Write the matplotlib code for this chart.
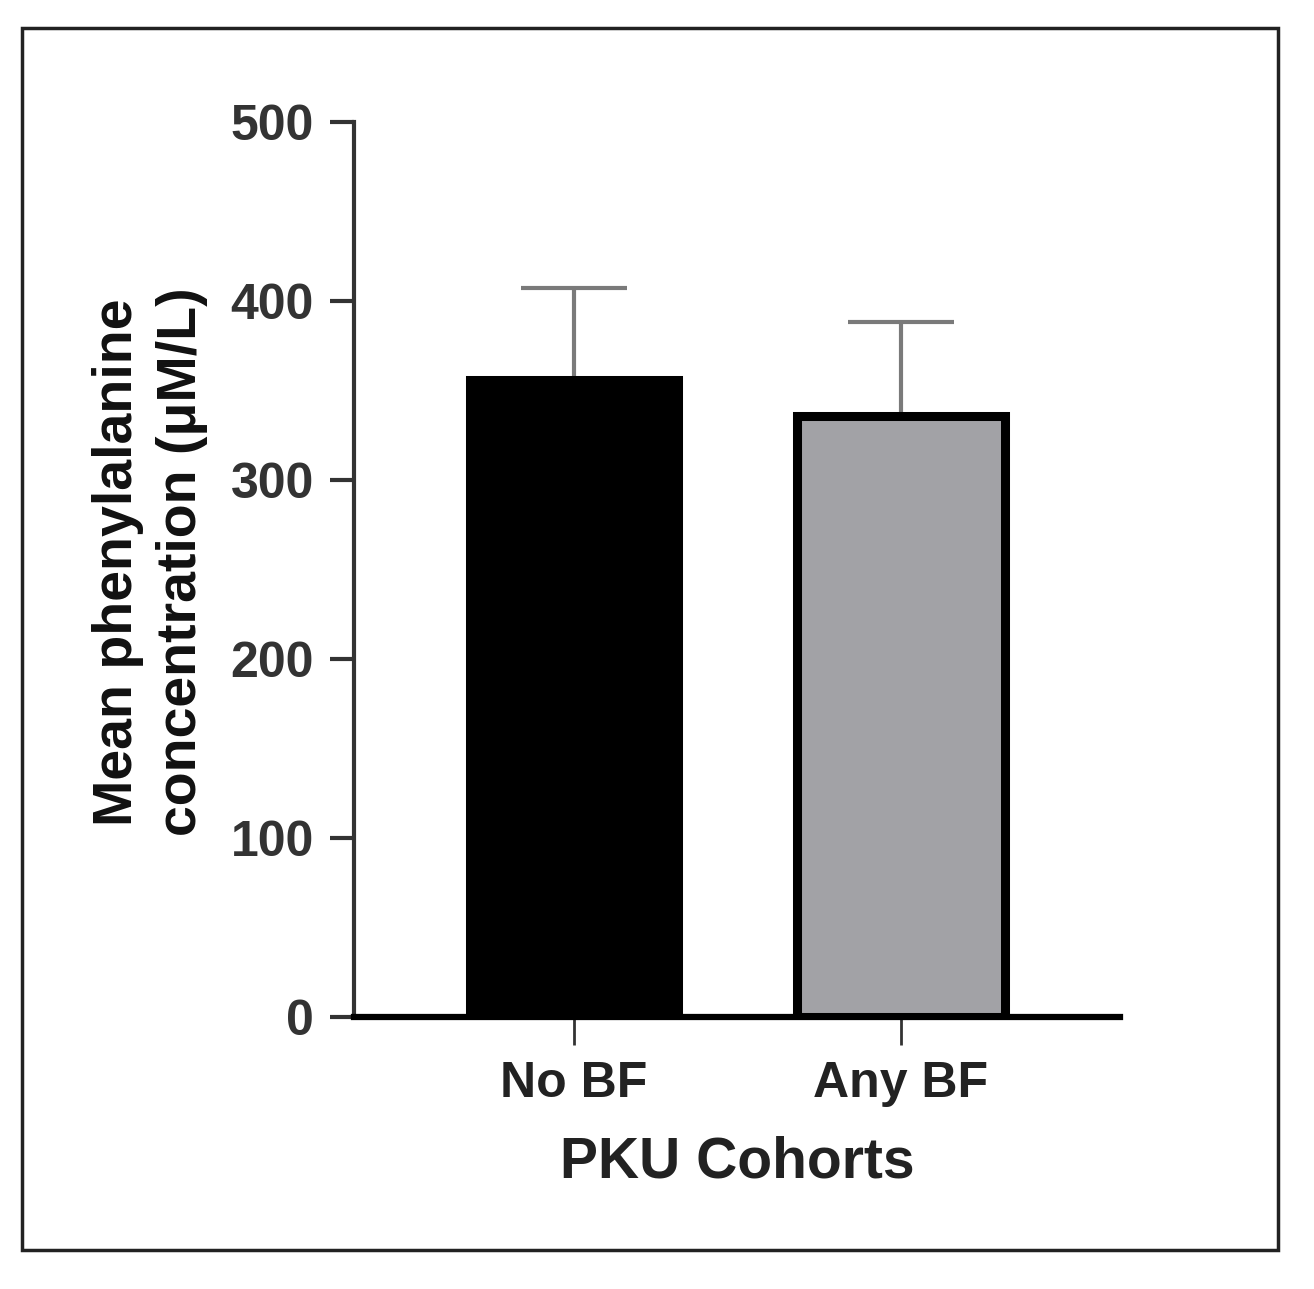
import matplotlib
matplotlib.use('Agg')
import matplotlib.pyplot as plt
from matplotlib.patches import Rectangle

# Data
cohorts = ['No BF', 'Any BF']
mean_phe = [356, 336]
sem_phe = [51, 52]
bar_colors = ['#000000', '#a2a2a6']
y_ticks = [0, 100, 200, 300, 400, 500]

plt.rcParams['font.family'] = ['Liberation Sans', 'DejaVu Sans']

fig = plt.figure(figsize=(13.14, 12.89), dpi=100)
ax = fig.add_axes([0.2694, 0.211, 0.5830, 0.6944])

x = list(range(len(cohorts)))
ax.errorbar(x, mean_phe, yerr=[[0] * len(sem_phe), sem_phe], fmt='none',
            ecolor='#7a7a7a', elinewidth=3, capsize=38, capthick=3, zorder=1)
ax.bar(x, mean_phe, width=0.635, color=bar_colors, edgecolor='black',
       linewidth=6.5, zorder=2)

ax.set_xlim(-0.673, 1.67)
ax.set_ylim(0, 500)
ax.set_yticks(y_ticks)
ax.set_xticks(x)
ax.set_xticklabels(cohorts)

for side in ['top', 'right']:
    ax.spines[side].set_visible(False)
ax.spines['left'].set_linewidth(3)
ax.spines['left'].set_color('#333333')
ax.spines['bottom'].set_linewidth(4.5)
ax.spines['bottom'].set_color('black')
ax.spines['bottom'].set_zorder(3)

ax.tick_params(axis='y', length=17, width=3, color='#333333', pad=12,
               labelsize=36, labelcolor='#333333')
ax.tick_params(axis='x', length=20, width=2, color='#333333', pad=12,
               labelsize=36, labelcolor='#222222')
for lab in ax.get_yticklabels() + ax.get_xticklabels():
    lab.set_fontweight('bold')

ax.set_xlabel('PKU Cohorts', fontsize=41, fontweight='bold', color='#222222',
              labelpad=20)
fig.text(150 / 1314, 1 - 562 / 1289, 'Mean phenylalanine\nconcentration (μM/L)',
         rotation=90, ha='center', va='center', multialignment='center',
         fontsize=40, fontweight='bold', color='#111111', linespacing=1.3)

# outer frame
fig.patches.append(Rectangle((22 / 1314, 1 - 1250 / 1289), 1256 / 1314, 1222 / 1289,
                             transform=fig.transFigure, fill=False,
                             edgecolor='#222222', linewidth=2.5))

fig.savefig('out.png', dpi=100, facecolor='white')
